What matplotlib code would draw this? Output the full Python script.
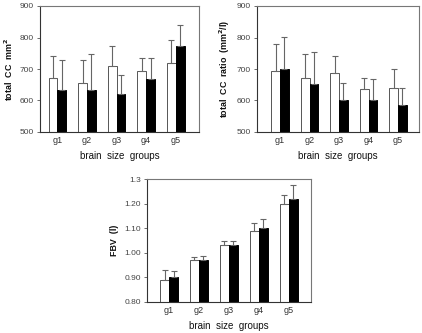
import matplotlib
matplotlib.use("Agg")
import matplotlib.pyplot as plt
import numpy as np

plt.rcParams['font.family'] = ['Liberation Sans', 'DejaVu Sans']

groups = ["g1", "g2", "g3", "g4", "g5"]

cc_open = [670, 657, 710, 693, 718]
cc_open_err = [71, 71, 63, 42, 74]
cc_filled = [633, 633, 622, 667, 772]
cc_filled_err = [95, 115, 58, 68, 68]

ratio_open = [693, 673, 686, 636, 641]
ratio_open_err = [87, 74, 55, 34, 59]
ratio_filled = [701, 652, 602, 602, 587]
ratio_filled_err = [100, 101, 55, 65, 54]

fbv_open = [0.89, 0.97, 1.03, 1.09, 1.20]
fbv_open_err = [0.040, 0.013, 0.018, 0.031, 0.033]
fbv_filled = [0.90, 0.97, 1.03, 1.10, 1.22]
fbv_filled_err = [0.025, 0.019, 0.018, 0.037, 0.054]

cc_yticks = [500, 600, 700, 800, 900]
cc_yticklabels = ["500", "600", "700", "800", "900"]
fbv_yticks = [0.80, 0.90, 1.00, 1.10, 1.20, 1.30]
fbv_yticklabels = ["0.80", "0.90", "1.00", "1.10", "1.20", "1.3"]

fig = plt.figure(figsize=(4.22, 3.33), dpi=100)

W, H = 422, 333
def ax_px(l, t, r, b):
    return fig.add_axes([l / W, 1 - b / H, (r - l) / W, (b - t) / H])

ax1 = ax_px(40, 6, 199, 132)
ax2 = ax_px(257, 6, 419, 132)
ax3 = ax_px(147, 179, 311, 302)

bw = 0.30
x = np.arange(1, len(groups) + 1)

def draw(ax, vo, eo, vf, ef, ylim, yticks, yticklabels, ylabel, xlim):
    ekw = dict(ecolor='#666666', elinewidth=0.8, capsize=2.0, capthick=0.8)
    ax.bar(x - bw / 2, vo, bw, color='white', edgecolor='#555555',
           linewidth=0.7, yerr=[np.zeros(len(eo)), eo], error_kw=ekw, zorder=2)
    ax.bar(x + bw / 2, vf, bw, color='black', edgecolor='black',
           linewidth=0.7, yerr=[np.zeros(len(ef)), ef], error_kw=ekw, zorder=2)
    ax.set_ylim(*ylim)
    ax.set_xlim(*xlim)
    ax.set_yticks(yticks)
    ax.set_yticklabels(yticklabels, fontsize=6, color='#444444')
    ax.set_xticks(x)
    ax.set_xticklabels(groups, fontsize=6.5, color='#333333')
    ax.tick_params(axis='x', length=0, pad=3)
    ax.tick_params(axis='y', length=2.5, width=0.6, color='#555555', pad=2)
    for s in ['left', 'bottom']:
        ax.spines[s].set_color('#333333')
        ax.spines[s].set_linewidth(0.8)
    for s in ['top', 'right']:
        ax.spines[s].set_color('#777777')
        ax.spines[s].set_linewidth(0.8)
    ax.set_xlabel("brain  size  groups", fontsize=7, labelpad=4, color='#111111')
    ax.set_ylabel(ylabel, fontsize=6.4, fontweight='bold', labelpad=3.5, color='#111111')

draw(ax1, cc_open, cc_open_err, cc_filled, cc_filled_err, (500, 900), cc_yticks,
     cc_yticklabels, "total  CC  mm$^{\\mathbf{2}}$", (0.41, 5.79))
draw(ax2, ratio_open, ratio_open_err, ratio_filled, ratio_filled_err, (500, 900), cc_yticks,
     cc_yticklabels, "total  CC  ratio  (mm$^{\\mathbf{2}}$/l)", (0.22, 5.71))
draw(ax3, fbv_open, fbv_open_err, fbv_filled, fbv_filled_err, (0.80, 1.30), fbv_yticks,
     fbv_yticklabels, "FBV  (l)", (0.26, 5.75))

fig.savefig("out.png", dpi=100)
